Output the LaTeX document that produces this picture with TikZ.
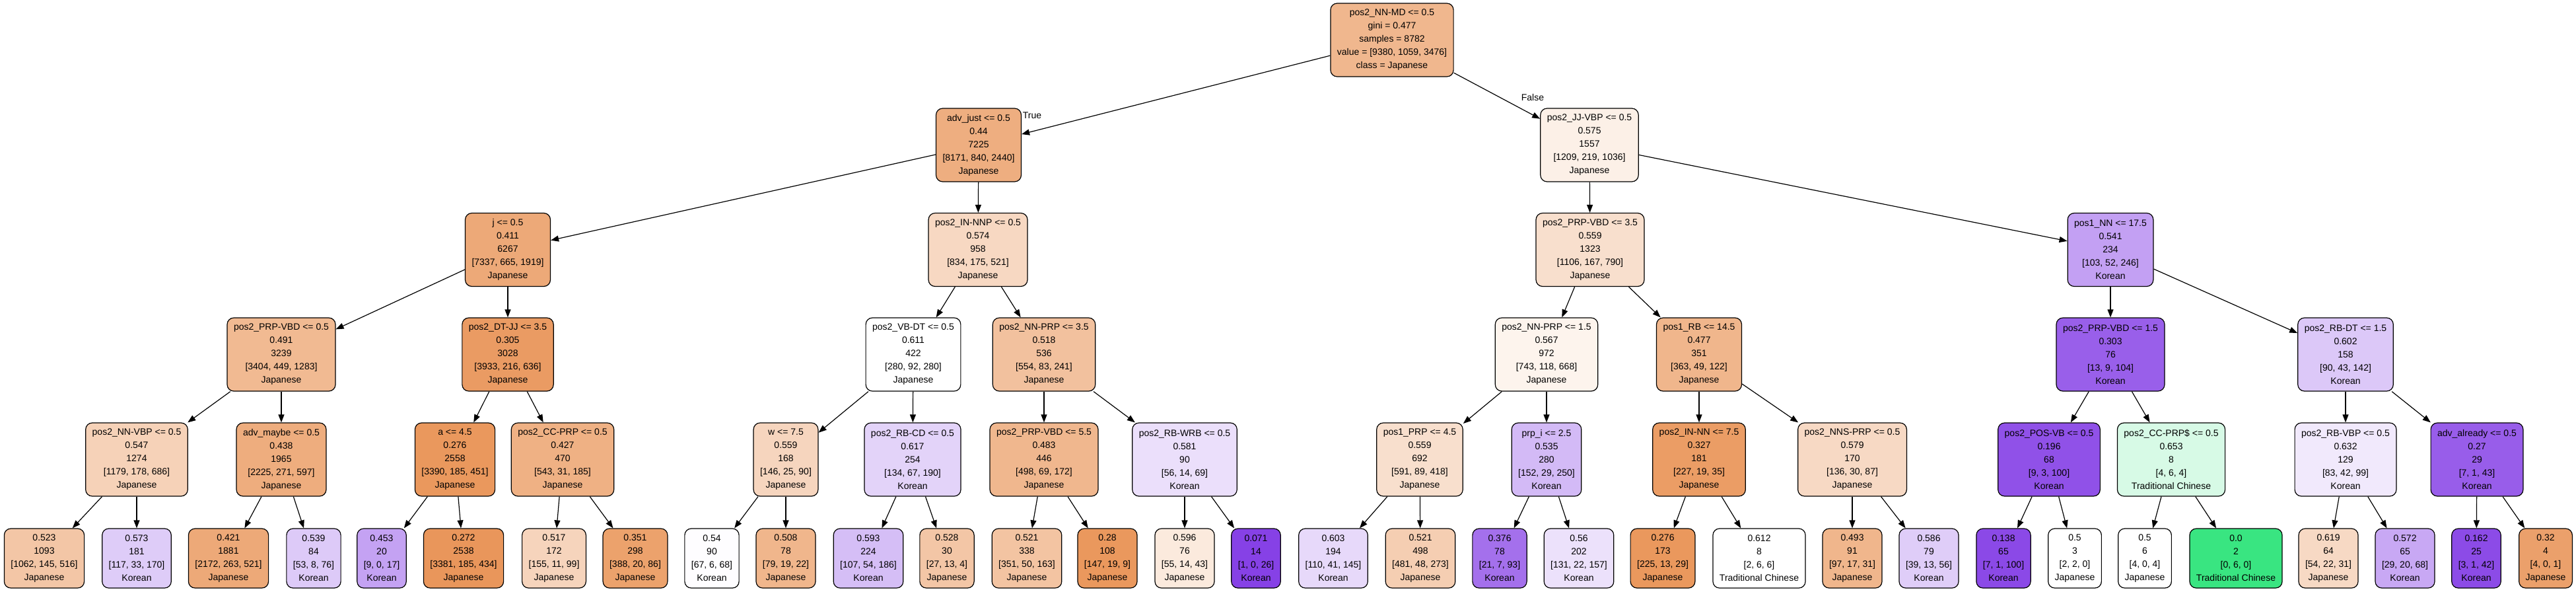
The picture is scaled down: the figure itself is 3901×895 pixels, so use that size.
\documentclass[tikz,border=0pt]{standalone}
\usepackage{fontspec}
\setmainfont{Liberation Sans}
\usepackage{tikz}
\usetikzlibrary{arrows.meta}
\definecolor{jpncol}{RGB}{229,129,57}
\definecolor{korcol}{RGB}{129,57,229}
\definecolor{tchcol}{RGB}{57,229,129}

\begin{document}
\begin{tikzpicture}
    [x=1pt, y=-1pt,
      splitbox/.style={draw, rounded corners=10pt, align=center, line width=1.2pt,
        inner xsep=10pt, inner ysep=3pt, minimum height=111pt,
        font=\fontsize{14}{20}\selectfont},
      leafbox/.style={splitbox, minimum height=90pt},
      jpn/.style={fill=jpncol!#1!white},
      kor/.style={fill=korcol!#1!white},
      tch/.style={fill=tchcol!#1!white},
      link/.style={-{Triangle[length=12pt,width=9pt]}, line width=1.2pt}]
    \useasboundingbox (0,0) rectangle (3901,895);
    % root and level 1
    \node[splitbox, jpn=57] (root) at (2108,60.5) {pos2\_NN-MD <= 0.5\\gini = 0.477\\samples = 8782\\value = [9380, 1059, 3476]\\class = Japanese};
    \node[splitbox, jpn=64] (l) at (1482,219.5) {adv\_just <= 0.5\\0.44\\7225\\{}[8171, 840, 2440]\\Japanese};
    \node[splitbox, jpn=12] (r) at (2407,219.5) {pos2\_JJ-VBP <= 0.5\\0.575\\1557\\{}[1209, 219, 1036]\\Japanese};
    % level 2
    \node[splitbox, jpn=68] (ll) at (769,378) {j <= 0.5\\0.411\\6267\\{}[7337, 665, 1919]\\Japanese};
    \node[splitbox, jpn=31] (lr) at (1481,378) {pos2\_IN-NNP <= 0.5\\0.574\\958\\{}[834, 175, 521]\\Japanese};
    \node[splitbox, jpn=25] (rl) at (2408,378) {pos2\_PRP-VBD <= 3.5\\0.559\\1323\\{}[1106, 167, 790]\\Japanese};
    \node[splitbox, kor=48] (rr) at (3196,378) {pos1\_NN <= 17.5\\0.541\\234\\{}[103, 52, 246]\\Korean};
    % level 3
    \node[splitbox, jpn=55] (lll) at (426,536.5) {pos2\_PRP-VBD <= 0.5\\0.491\\3239\\{}[3404, 449, 1283]\\Japanese};
    \node[splitbox, jpn=79] (llr) at (769,536.5) {pos2\_DT-JJ <= 3.5\\0.305\\3028\\{}[3933, 216, 636]\\Japanese};
    \node[splitbox, fill=white] (lrl) at (1383,536.5) {pos2\_VB-DT <= 0.5\\0.611\\422\\{}[280, 92, 280]\\Japanese};
    \node[splitbox, jpn=49] (lrr) at (1581,536.5) {pos2\_NN-PRP <= 3.5\\0.518\\536\\{}[554, 83, 241]\\Japanese};
    \node[splitbox, jpn=9] (rll) at (2342,536.5) {pos2\_NN-PRP <= 1.5\\0.567\\972\\{}[743, 118, 668]\\Japanese};
    \node[splitbox, jpn=58] (rlr) at (2573,536.5) {pos1\_RB <= 14.5\\0.477\\351\\{}[363, 49, 122]\\Japanese};
    \node[splitbox, kor=81] (rrl) at (3196,536.5) {pos2\_PRP-VBD <= 1.5\\0.303\\76\\{}[13, 9, 104]\\Korean};
    \node[splitbox, kor=28] (rrr) at (3552,536.5) {pos2\_RB-DT <= 1.5\\0.602\\158\\{}[90, 43, 142]\\Korean};
    % level 4
    \node[splitbox, jpn=36] (llll) at (207,695.5) {pos2\_NN-VBP <= 0.5\\0.547\\1274\\{}[1179, 178, 686]\\Japanese};
    \node[splitbox, jpn=65] (lllr) at (426,695.5) {adv\_maybe <= 0.5\\0.438\\1965\\{}[2225, 271, 597]\\Japanese};
    \node[splitbox, jpn=82] (llrl) at (689,695.5) {a <= 4.5\\0.276\\2558\\{}[3390, 185, 451]\\Japanese};
    \node[splitbox, jpn=62] (llrr) at (852,695.5) {pos2\_CC-PRP <= 0.5\\0.427\\470\\{}[543, 31, 185]\\Japanese};
    \node[splitbox, jpn=33] (lrll) at (1190,695.5) {w <= 7.5\\0.559\\168\\{}[146, 25, 90]\\Japanese};
    \node[splitbox, kor=22] (lrlr) at (1382,695.5) {pos2\_RB-CD <= 0.5\\0.617\\254\\{}[134, 67, 190]\\Korean};
    \node[splitbox, jpn=57] (lrrl) at (1581,695.5) {pos2\_PRP-VBD <= 5.5\\0.483\\446\\{}[498, 69, 172]\\Japanese};
    \node[splitbox, kor=16] (lrrr) at (1794,695.5) {pos2\_RB-WRB <= 0.5\\0.581\\90\\{}[56, 14, 69]\\Korean};
    \node[splitbox, jpn=25] (rlll) at (2150,695.5) {pos1\_PRP <= 4.5\\0.559\\692\\{}[591, 89, 418]\\Japanese};
    \node[splitbox, kor=35] (rllr) at (2342,695.5) {prp\_i <= 2.5\\0.535\\280\\{}[152, 29, 250]\\Korean};
    \node[splitbox, jpn=78] (rlrl) at (2573,695.5) {pos2\_IN-NN <= 7.5\\0.327\\181\\{}[227, 19, 35]\\Japanese};
    \node[splitbox, jpn=30] (rlrr) at (2805,695.5) {pos2\_NNS-PRP <= 0.5\\0.579\\170\\{}[136, 30, 87]\\Japanese};
    \node[splitbox, kor=88] (rrll) at (3103,695.5) {pos2\_POS-VB <= 0.5\\0.196\\68\\{}[9, 3, 100]\\Korean};
    \node[splitbox, tch=20] (rrlr) at (3288,695.5) {pos2\_CC-PRP\$ <= 0.5\\0.653\\8\\{}[4, 6, 4]\\Traditional Chinese};
    \node[splitbox, kor=11] (rrrl) at (3552,695.5) {pos2\_RB-VBP <= 0.5\\0.632\\129\\{}[83, 42, 99]\\Korean};
    \node[splitbox, kor=82] (rrrr) at (3751,695.5) {adv\_already <= 0.5\\0.27\\29\\{}[7, 1, 43]\\Korean};
    % leaves
    \node[leafbox, jpn=45] (lllll) at (67,845) {0.523\\1093\\{}[1062, 145, 516]\\Japanese};
    \node[leafbox, kor=26] (llllr) at (207,845) {0.573\\181\\{}[117, 33, 170]\\Korean};
    \node[leafbox, jpn=68] (lllrl) at (346,845) {0.421\\1881\\{}[2172, 263, 521]\\Japanese};
    \node[leafbox, kor=27] (lllrr) at (475,845) {0.539\\84\\{}[53, 8, 76]\\Korean};
    \node[leafbox, kor=47] (llrll) at (578,845) {0.453\\20\\{}[9, 0, 17]\\Korean};
    \node[leafbox, jpn=83] (llrlr) at (702,845) {0.272\\2538\\{}[3381, 185, 434]\\Japanese};
    \node[leafbox, jpn=34] (llrrl) at (839,845) {0.517\\172\\{}[155, 11, 99]\\Japanese};
    \node[leafbox, jpn=74] (llrrr) at (962,845) {0.351\\298\\{}[388, 20, 86]\\Japanese};
    \node[leafbox, kor=1] (lrlll) at (1078,845) {0.54\\90\\{}[67, 6, 68]\\Korean};
    \node[leafbox, jpn=58] (lrllr) at (1190,845) {0.508\\78\\{}[79, 19, 22]\\Japanese};
    \node[leafbox, kor=33] (lrlrl) at (1315,845) {0.593\\224\\{}[107, 54, 186]\\Korean};
    \node[leafbox, jpn=45] (lrlrr) at (1434,845) {0.528\\30\\{}[27, 13, 4]\\Japanese};
    \node[leafbox, jpn=47] (lrrll) at (1555,845) {0.521\\338\\{}[351, 50, 163]\\Japanese};
    \node[leafbox, jpn=82] (lrrlr) at (1677,845) {0.28\\108\\{}[147, 19, 9]\\Japanese};
    \node[leafbox, jpn=17] (lrrrl) at (1794,845) {0.596\\76\\{}[55, 14, 43]\\Japanese};
    \node[leafbox, kor=96] (lrrrr) at (1902,845) {0.071\\14\\{}[1, 0, 26]\\Korean};
    \node[leafbox, kor=19] (rllll) at (2019,845) {0.603\\194\\{}[110, 41, 145]\\Korean};
    \node[leafbox, jpn=39] (rlllr) at (2151,845) {0.521\\498\\{}[481, 48, 273]\\Japanese};
    \node[leafbox, kor=72] (rllrl) at (2271,845) {0.376\\78\\{}[21, 7, 93]\\Korean};
    \node[leafbox, kor=15] (rllrr) at (2391,845) {0.56\\202\\{}[131, 22, 157]\\Korean};
    \node[leafbox, jpn=82] (rlrll) at (2518,845) {0.276\\173\\{}[225, 13, 29]\\Japanese};
    \node[leafbox, fill=white] (rlrlr) at (2664,845) {0.612\\8\\{}[2, 6, 6]\\Traditional Chinese};
    \node[leafbox, jpn=58] (rlrrl) at (2805,845) {0.493\\91\\{}[97, 17, 31]\\Japanese};
    \node[leafbox, kor=25] (rlrrr) at (2921,845) {0.586\\79\\{}[39, 13, 56]\\Korean};
    \node[leafbox, kor=92] (rrlll) at (3034,845) {0.138\\65\\{}[7, 1, 100]\\Korean};
    \node[leafbox, fill=white] (rrllr) at (3142,845) {0.5\\3\\{}[2, 2, 0]\\Japanese};
    \node[leafbox, fill=white] (rrlrl) at (3248,845) {0.5\\6\\{}[4, 0, 4]\\Japanese};
    \node[leafbox, tch=100] (rrlrr) at (3386,845) {0.0\\2\\{}[0, 6, 0]\\Traditional Chinese};
    \node[leafbox, jpn=30] (rrrll) at (3526,845) {0.619\\64\\{}[54, 22, 31]\\Japanese};
    \node[leafbox, kor=44] (rrrlr) at (3642,845) {0.572\\65\\{}[29, 20, 68]\\Korean};
    \node[leafbox, kor=91] (rrrrl) at (3750,845) {0.162\\25\\{}[3, 1, 42]\\Korean};
    \node[leafbox, jpn=75] (rrrrr) at (3855,845) {0.32\\4\\{}[4, 0, 1]\\Japanese};
    % branch labels
    \node[font=\fontsize{14}{20}\selectfont] (truelbl) at (1563,175) {True};
    \node[font=\fontsize{14}{20}\selectfont] (falselbl) at (2321,147) {False};
    % connectors
    \draw[link] (root) -- (l); \draw[link] (root) -- (r);
    \draw[link] (l) -- (ll); \draw[link] (l) -- (lr);
    \draw[link] (r) -- (rl); \draw[link] (r) -- (rr);
    \draw[link] (ll) -- (lll); \draw[link] (ll) -- (llr);
    \draw[link] (lr) -- (lrl); \draw[link] (lr) -- (lrr);
    \draw[link] (rl) -- (rll); \draw[link] (rl) -- (rlr);
    \draw[link] (rr) -- (rrl); \draw[link] (rr) -- (rrr);
    \draw[link] (lll) -- (llll); \draw[link] (lll) -- (lllr);
    \draw[link] (llr) -- (llrl); \draw[link] (llr) -- (llrr);
    \draw[link] (lrl) -- (lrll); \draw[link] (lrl) -- (lrlr);
    \draw[link] (lrr) -- (lrrl); \draw[link] (lrr) -- (lrrr);
    \draw[link] (rll) -- (rlll); \draw[link] (rll) -- (rllr);
    \draw[link] (rlr) -- (rlrl); \draw[link] (rlr) -- (rlrr);
    \draw[link] (rrl) -- (rrll); \draw[link] (rrl) -- (rrlr);
    \draw[link] (rrr) -- (rrrl); \draw[link] (rrr) -- (rrrr);
    \draw[link] (llll) -- (lllll); \draw[link] (llll) -- (llllr);
    \draw[link] (lllr) -- (lllrl); \draw[link] (lllr) -- (lllrr);
    \draw[link] (llrl) -- (llrll); \draw[link] (llrl) -- (llrlr);
    \draw[link] (llrr) -- (llrrl); \draw[link] (llrr) -- (llrrr);
    \draw[link] (lrll) -- (lrlll); \draw[link] (lrll) -- (lrllr);
    \draw[link] (lrlr) -- (lrlrl); \draw[link] (lrlr) -- (lrlrr);
    \draw[link] (lrrl) -- (lrrll); \draw[link] (lrrl) -- (lrrlr);
    \draw[link] (lrrr) -- (lrrrl); \draw[link] (lrrr) -- (lrrrr);
    \draw[link] (rlll) -- (rllll); \draw[link] (rlll) -- (rlllr);
    \draw[link] (rllr) -- (rllrl); \draw[link] (rllr) -- (rllrr);
    \draw[link] (rlrl) -- (rlrll); \draw[link] (rlrl) -- (rlrlr);
    \draw[link] (rlrr) -- (rlrrl); \draw[link] (rlrr) -- (rlrrr);
    \draw[link] (rrll) -- (rrlll); \draw[link] (rrll) -- (rrllr);
    \draw[link] (rrlr) -- (rrlrl); \draw[link] (rrlr) -- (rrlrr);
    \draw[link] (rrrl) -- (rrrll); \draw[link] (rrrl) -- (rrrlr);
    \draw[link] (rrrr) -- (rrrrl); \draw[link] (rrrr) -- (rrrrr);
  \end{tikzpicture}
\end{document}
